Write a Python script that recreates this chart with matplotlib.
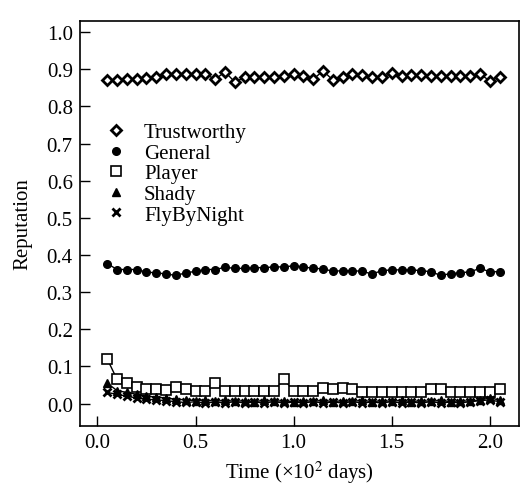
"""Reputation over time for five agent types."""

import matplotlib
matplotlib.use("Agg")
import matplotlib.pyplot as plt
from matplotlib.lines import Line2D
import numpy as np

# --- Data ---
TIME = [0.05 * i for i in range(1, 42)]

TRUSTWORTHY = [
    0.871, 0.871, 0.873, 0.875, 0.876, 0.878, 0.887, 0.888, 0.887, 0.887,
    0.887, 0.873, 0.893, 0.866, 0.878, 0.878, 0.878, 0.879, 0.882, 0.887,
    0.882, 0.873, 0.896, 0.871, 0.880, 0.887, 0.884, 0.878, 0.880, 0.889,
    0.882, 0.884, 0.884, 0.882, 0.882, 0.882, 0.882, 0.882, 0.887, 0.869,
    0.880,
]
GENERAL = [
    0.377, 0.361, 0.361, 0.361, 0.354, 0.352, 0.349, 0.345, 0.352, 0.356,
    0.361, 0.361, 0.367, 0.364, 0.364, 0.366, 0.366, 0.368, 0.368, 0.371,
    0.368, 0.364, 0.363, 0.356, 0.358, 0.358, 0.356, 0.349, 0.358, 0.360,
    0.360, 0.360, 0.358, 0.355, 0.345, 0.350, 0.352, 0.355, 0.364, 0.355,
    0.355,
]
PLAYER = [
    0.120, 0.065, 0.055, 0.045, 0.040, 0.038, 0.036, 0.045, 0.040, 0.035,
    0.033, 0.055, 0.033, 0.033, 0.033, 0.033, 0.033, 0.035, 0.065, 0.035,
    0.033, 0.033, 0.042, 0.040, 0.042, 0.040, 0.032, 0.032, 0.032, 0.032,
    0.032, 0.032, 0.032, 0.040, 0.038, 0.032, 0.032, 0.032, 0.032, 0.032,
    0.040,
]
SHADY = [
    0.055, 0.035, 0.030, 0.025, 0.020, 0.018, 0.015, 0.012, 0.010, 0.008,
    0.010, 0.006, 0.009, 0.006, 0.008, 0.005, 0.009, 0.006, 0.008, 0.005,
    0.008, 0.006, 0.009, 0.005, 0.008, 0.006, 0.009, 0.005, 0.008, 0.006,
    0.009, 0.005, 0.008, 0.006, 0.009, 0.005, 0.008, 0.006, 0.010, 0.015,
    0.010,
]
FLYBYNIGHT = [
    0.030, 0.025, 0.020, 0.015, 0.012, 0.010, 0.008, 0.005, 0.003, 0.005,
    0.002, 0.004, 0.002, 0.005, 0.002, 0.004, 0.002, 0.005, 0.002, 0.004,
    0.002, 0.005, 0.002, 0.004, 0.002, 0.005, 0.002, 0.004, 0.002, 0.005,
    0.002, 0.004, 0.002, 0.005, 0.002, 0.004, 0.002, 0.005, 0.008, 0.010,
    0.005,
]

SERIES = [
    ("Trustworthy", TRUSTWORTHY, dict(marker="D", ms=5, mfc="white", mew=2.0)),
    ("General", GENERAL, dict(marker="o", ms=5.5, mfc="black", mew=1.0)),
    ("Player", PLAYER, dict(marker="s", ms=7, mfc="white", mew=1.2)),
    ("Shady", SHADY, dict(marker="^", ms=5.5, mfc="black", mew=1.0)),
    ("FlyByNight", FLYBYNIGHT, dict(marker="x", ms=6, mew=2.0)),
]

# --- Style ---
plt.rcParams.update({
    "font.family": "Liberation Serif",
    "mathtext.fontset": "stix",
    "font.size": 15,
})

fig = plt.figure(figsize=(5.25, 4.89), dpi=100)
ax = fig.add_axes([0.152, 0.127, 0.837, 0.828])

handles = []
for name, vals, style in SERIES:
    ax.plot(TIME, vals, color="black", lw=1.0, mec="black", **style)
    handles.append(Line2D([], [], color="black", ls="none", mec="black", label=name, **style))

ax.legend(handles=handles, loc="upper left", bbox_to_anchor=(0.025, 0.785),
          frameon=False, handlelength=1.0, handletextpad=0.85, labelspacing=0.05,
          borderpad=0.2)

ax.set_xlim(-0.09, 2.15)
ax.set_ylim(-0.06, 1.03)
ax.set_xticks(np.arange(0, 2.01, 0.5))
ax.set_yticks(np.arange(0, 1.01, 0.1))
ax.xaxis.set_major_formatter(matplotlib.ticker.FormatStrFormatter("%.1f"))
ax.yaxis.set_major_formatter(matplotlib.ticker.FormatStrFormatter("%.1f"))
ax.tick_params(direction="in", length=7, width=1.0, top=False, right=False, pad=5)
for sp in ax.spines.values():
    sp.set_linewidth(1.2)

ax.set_xlabel("Time (×10$^2$ days)", labelpad=5)
ax.set_ylabel("Reputation", labelpad=10)

fig.savefig("out.png", dpi=100)
